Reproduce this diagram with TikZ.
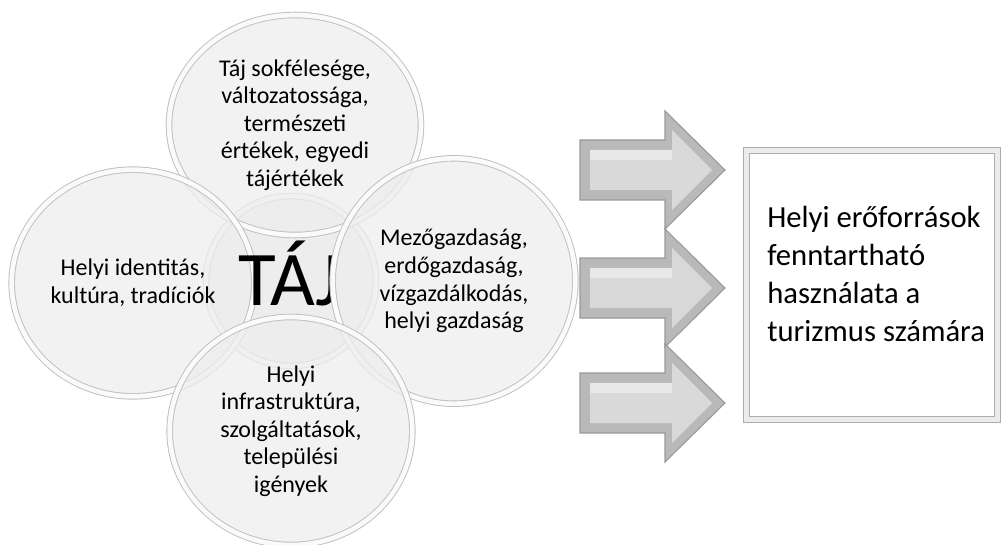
\documentclass[tikz,border=0pt]{standalone}
\usepackage{fontspec}
\setmainfont{Carlito}
\usetikzlibrary{shapes.geometric}

\begin{document}
\begin{tikzpicture}[x=0.75pt,y=-0.75pt,
  bubble/.style={ellipse,draw=gray!50,line width=0.7pt,double=gray!4,double distance=3.5pt,
    fill=gray!14,fill opacity=0.75,text opacity=1,align=center,inner sep=0pt,
    font=\fontsize{18}{20.7}\selectfont},
  blockarrow/.style={draw=gray!80,line width=0.8pt,fill=gray!55},
  arrowface/.style={fill=gray!30},
  resbox/.style={rectangle,draw=gray!65,line width=0.8pt,double=gray!15,double distance=4pt,
    fill=white,minimum width=188pt,minimum height=202pt,inner sep=0pt}]
  \useasboundingbox (0,0) rectangle (1002,545);
  % kozepso kor, a negy kor
  \node [bubble,circle,minimum size=127.5pt,fill opacity=1] (taj) at (291,281) {};
  \node [bubble,minimum width=189pt,minimum height=165pt] (sokf) at (295,125)
    {Táj sokfélesége,\\változatossága,\\természeti\\értékek, egyedi\\tájértékek};
  \node [bubble,minimum width=182pt,minimum height=170pt] (ident) at (133,283)
    {Helyi identitás,\\kultúra, tradíciók};
  \node [inner sep=0pt,font=\fontsize{58}{60}\selectfont,text height=38pt,text depth=0pt]
    (tajfelirat) at ([xshift=-1pt,yshift=1pt]taj.center) {TÁJ};
  \node [bubble,minimum width=182pt,minimum height=184pt] (gazd) at (454,281)
    {Mezőgazdaság,\\erdőgazdaság,\\vízgazdálkodás,\\helyi gazdaság};
  \node [bubble,minimum width=182pt,minimum height=171pt] (infra) at (291,431)
    {Helyi\\infrastruktúra,\\szolgáltatások,\\települési\\igények};
  % nyilak
  \foreach \y in {170,288,403} {
    \draw [blockarrow] (580,\y-30) -- (665,\y-30) -- (665,\y-59) -- (725,\y)
      -- (665,\y+59) -- (665,\y+30) -- (580,\y+30) -- cycle;
    \fill [arrowface] (590,\y-20) -- (672,\y-20) -- (672,\y-40) -- (712,\y)
      -- (672,\y+40) -- (672,\y+20) -- (590,\y+20) -- cycle;
    \fill [gray!18] (590,\y-20) -- (672,\y-20) -- (672,\y-10) -- (590,\y-10) -- cycle;
  }
  % eredmeny doboz
  \node [resbox] (res) at (872,285) {};
  \node [anchor=west,align=left,inner sep=0pt,font=\fontsize{23}{28.5}\selectfont]
    (restext) at (767,274) {Helyi erőforrások\\fenntartható\\használata a\\turizmus számára};
\end{tikzpicture}
\end{document}
